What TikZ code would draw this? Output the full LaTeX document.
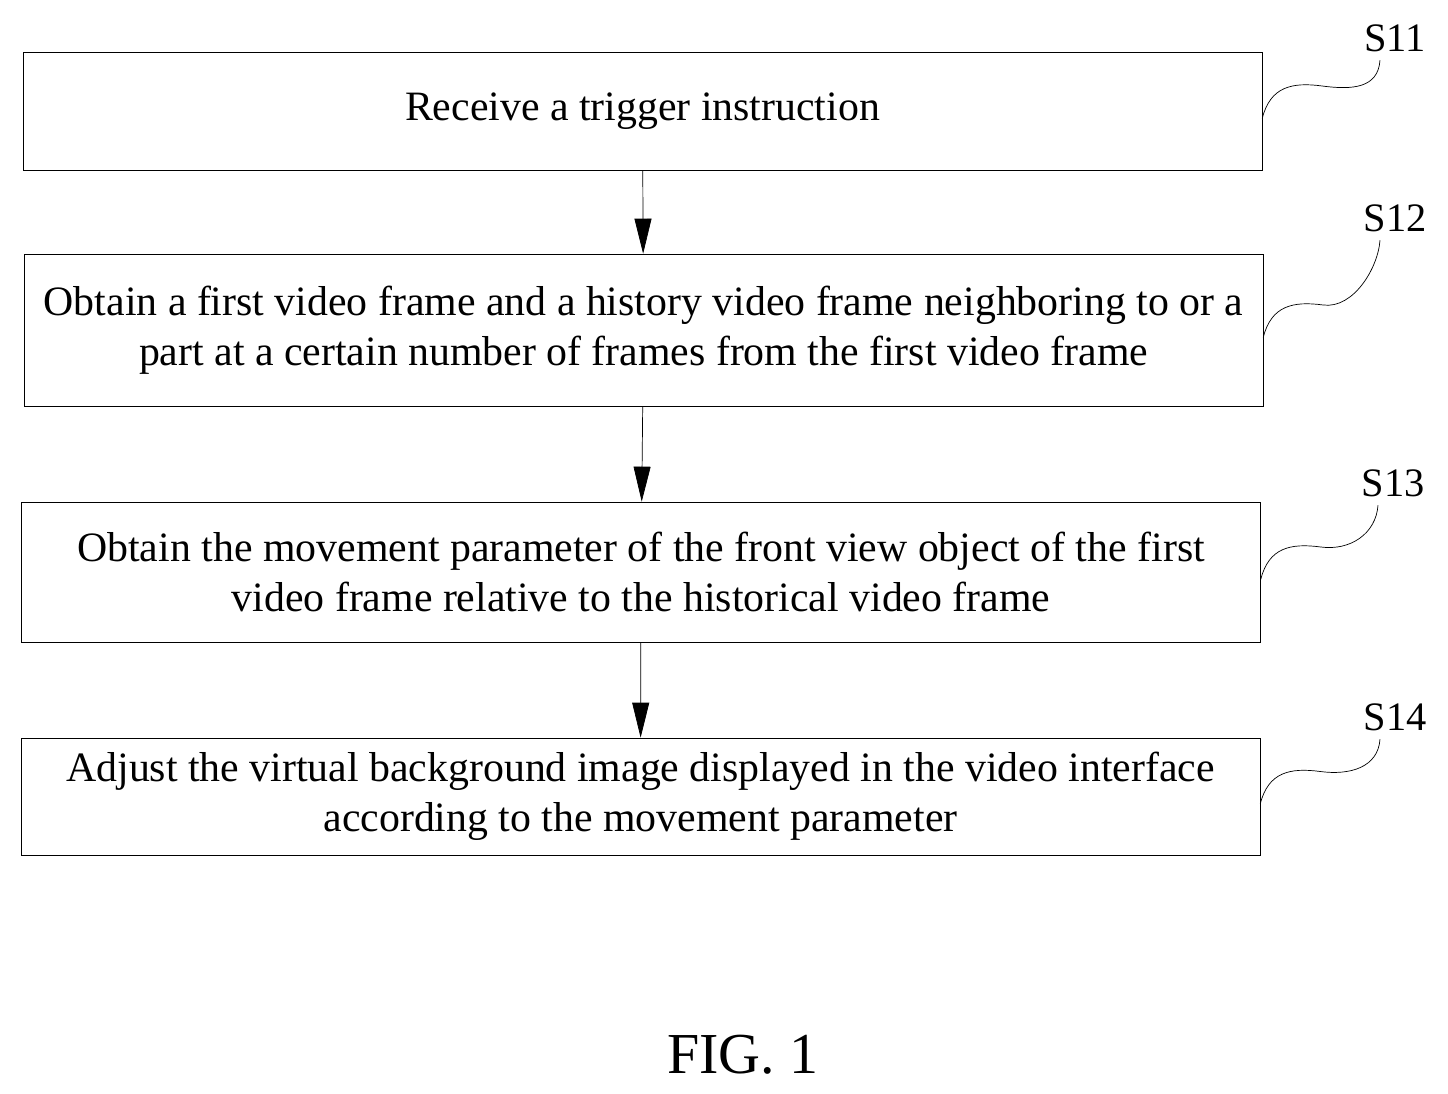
\documentclass[tikz,border=0pt]{standalone}
\usepackage{fontspec}
\setmainfont{Liberation Serif}
\usetikzlibrary{arrows.meta,positioning}
\tikzset{
    stepbox/.style ={
        shape=rectangle,
        draw=black,
        align=center,
        minimum width=24.78cm,
        font=\fontsize{23.8}{28.5}\selectfont
    },
    flow/.style ={
        -{Triangle[length=0.7cm,width=0.34cm]}
    },
    wave/.style ={
        draw=black,
        thin
    },
    steplabel/.style ={
        font=\fontsize{23}{26}\selectfont
    }
}

\begin{document}
\begin{tikzpicture}[x=0.02cm,y=-0.02cm]
    \useasboundingbox (0,0) rectangle (1448,1094);
    \node[stepbox,minimum height=2.36cm] (b1) at (642.5,111) {Receive a trigger instruction};
    \node[stepbox,minimum height=3.04cm] (b2) at (643.5,330) {Obtain a first video frame and a history video frame neighboring to or a\\part at a certain number of frames from the first video frame};
    \node[stepbox,minimum height=2.8cm] (b3) at (641,572) {Obtain the movement parameter of the front view object of the first\\video frame relative to the historical video frame};
    \node[stepbox,minimum height=2.34cm] (b4) at (640.5,796.5) {Adjust the virtual background image displayed in the video interface\\according to the movement parameter};
    % step labels
    \node[steplabel] (s1) at (1395,38) {S11};
    \node[steplabel] (s2) at (1395,218) {S12};
    \node[steplabel] (s3) at (1393,483) {S13};
    \node[steplabel] (s4) at (1395,717) {S14};
    \foreach \b/\s in {b1/s1,b2/s2,b3/s3,b4/s4}{
        \coordinate (\s end) at ([xshift=-0.3cm,yshift=-0.05cm]\s.south);
        \coordinate (\s mid) at ([xshift=1.2cm,yshift=0.5cm]\b.east);
        \draw[wave] ([yshift=-0.15cm]\b.east) .. controls +(8,-32) and +(-30,-4) .. (\s mid)
            .. controls +(30,4) and +(-2,28) .. (\s end);
    }
    % arrows
    \draw[flow] (b1) -- (b2);
    \draw[flow] (b2) -- (b3);
    \draw[flow] (b3) -- (b4);
    \node[font=\fontsize{33}{38}\selectfont] (fig) at (743,1055) {FIG. 1};
\end{tikzpicture}
\end{document}
